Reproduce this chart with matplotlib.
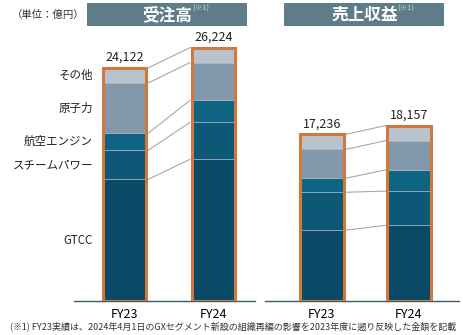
import matplotlib.pyplot as plt
from matplotlib.patches import Rectangle
import numpy as np

plt.rcParams['font.family'] = ['Noto Sans CJK JP', 'DejaVu Sans']

# ------------------------------------------------------------
# Data (億円)
# ------------------------------------------------------------

years = ["FY23", "FY24"]
segments = ["GTCC", "スチームパワー", "航空エンジン", "原子力", "その他"]

orders_gtcc = [12580, 14664]
orders_steam = [3015, 3820]
orders_aero = [1768, 2270]
orders_nuclear = [5199, 3920]
orders_other = [1560, 1550]
orders_total = [24122, 26224]

sales_gtcc = [7331, 7827]
sales_steam = [3920, 3548]
sales_aero = [1445, 2191]
sales_nuclear = [2990, 3026]
sales_other = [1550, 1565]
sales_total = [17236, 18157]

colors = ["#0a4a66", "#0d5876", "#106483", "#8399ab", "#b8c3cd"]
orange = "#d0793a"
header_color = "#5f7c89"

W, H = 464, 335
fig = plt.figure(figsize=(W / 100, H / 100), dpi=100)

UNITS_PER_PX = 103.5
YMAX = 27000


def make_axes(x0, x1, c0, spacing):
    bottom = (H - 301) / H
    height = (YMAX / UNITS_PER_PX) / H
    ax = fig.add_axes([x0 / W, bottom, (x1 - x0) / W, height])
    ax.set_xlim(-(c0 - x0) / spacing, -(c0 - x0) / spacing + (x1 - x0) / spacing)
    ax.set_ylim(0, YMAX)
    for s in ["top", "right", "left"]:
        ax.spines[s].set_visible(False)
    ax.spines["bottom"].set_color("#3f5b6a")
    ax.spines["bottom"].set_linewidth(1.0)
    ax.set_yticks([])
    ax.set_xticks([0, 1])
    ax.set_xticklabels(years, fontsize=9)
    ax.tick_params(axis="x", length=0, pad=5)
    ax.patch.set_alpha(0)
    return ax


def draw_panel(ax, stacks, totals, width):
    x = np.arange(len(years))
    bottoms = np.zeros(len(years))
    tops = []
    for vals, col in zip(stacks, colors):
        ax.bar(x, vals, width, bottom=bottoms, color=col,
               edgecolor="#9db4c1", linewidth=0.5, zorder=2)
        bottoms = bottoms + np.array(vals)
        tops.append(bottoms.copy())
    # orange outline
    for i in range(len(years)):
        ax.add_patch(Rectangle((x[i] - width / 2, 0), width, totals[i],
                               fill=False, edgecolor=orange, linewidth=2.2,
                               zorder=3))
        ax.annotate(f"{totals[i]:,}", (x[i], totals[i]),
                    xytext=(0, 3), textcoords="offset points",
                    ha="center", va="bottom", fontsize=9, color="#222222")
    # connector lines
    for t in tops:
        ax.plot([x[0] + width / 2 + 0.02, x[1] - width / 2 - 0.02],
                [t[0], t[1]], color="#a8a8a8", linewidth=0.8, zorder=1)
    return tops


# ------------------------------------------------------------
# Left panel: 受注高
# ------------------------------------------------------------

ax1 = make_axes(74, 255, 124.5, 89)
orders = [orders_gtcc, orders_steam, orders_aero, orders_nuclear, orders_other]
tops1 = draw_panel(ax1, orders, orders_total, 0.49)

lo = 0
x_lab = (93 - 124.5) / 89
for name, t in zip(segments, tops1):
    ax1.text(x_lab, (lo + t[0]) / 2, name, ha="right", va="center",
             fontsize=8.3, color="#222222", clip_on=False)
    lo = t[0]

# ------------------------------------------------------------
# Right panel: 売上収益
# ------------------------------------------------------------

ax2 = make_axes(265, 459, 322, 87)
sales = [sales_gtcc, sales_steam, sales_aero, sales_nuclear, sales_other]
draw_panel(ax2, sales, sales_total, 0.5)

# ------------------------------------------------------------
# Headers and notes
# ------------------------------------------------------------

for (bx0, bx1, title, tx, sx) in [(87, 247, "受注高", 167, 192),
                                  (284, 444, "売上収益", 365, 397)]:
    fig.patches.append(Rectangle((bx0 / W, 1 - 26 / H), (bx1 - bx0) / W,
                                 23 / H, transform=fig.transFigure,
                                 facecolor=header_color, edgecolor="none"))
    fig.text(tx / W, 1 - 15 / H, title, ha="center", va="center",
             fontsize=12, fontweight="bold", color="white")
    fig.text(sx / W, 1 - 9 / H, "(※1)", ha="left", va="center",
             fontsize=5.5, color="#c8d3d9")

fig.text(12 / W, 1 - 15 / H, "（単位：億円）", ha="left", va="center",
         fontsize=7.5, color="#333333")

fig.text(233 / W, 1 - 326 / H,
         "(※1) FY23実績は、2024年4月1日のGXセグメント新設の組織再編の影響を2023年度に遡り反映した金額を記載",
         ha="center", va="center", fontsize=6.5, color="#333333")

fig.savefig("out.png", dpi=100)
